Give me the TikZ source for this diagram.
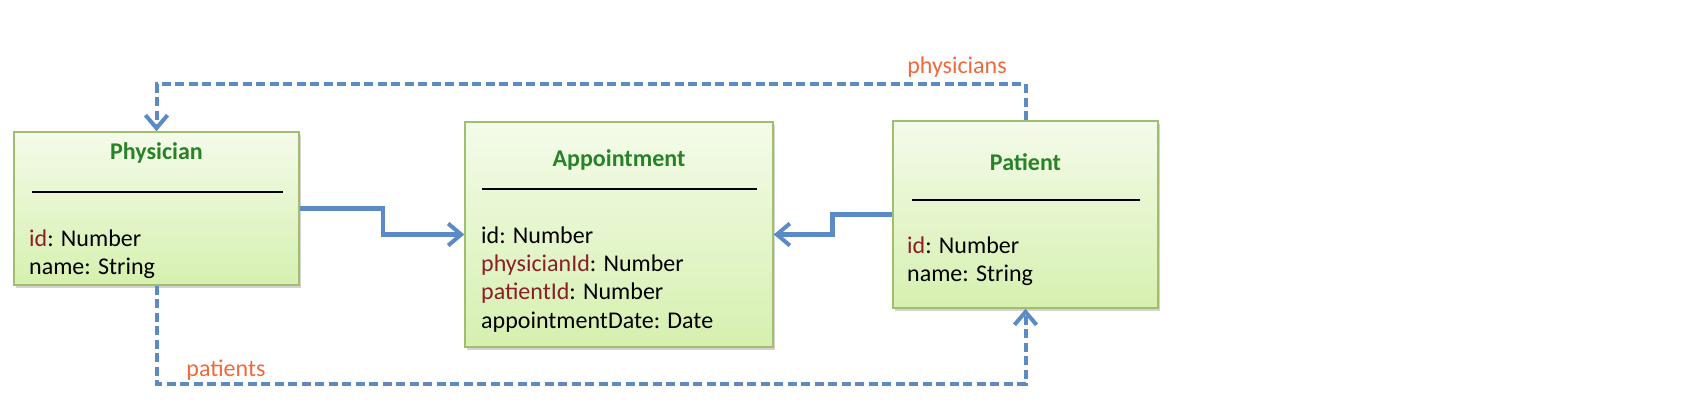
\documentclass[tikz,border=0pt]{standalone}
\usepackage{fontspec}
\setmainfont{Carlito}
\usetikzlibrary{arrows.meta,shadows}
\definecolor{linkblue}{RGB}{91,139,199}
\definecolor{titlegreen}{RGB}{40,130,40}
\definecolor{keyred}{RGB}{140,30,40}
\definecolor{rolered}{RGB}{240,105,60}
\definecolor{boxline}{RGB}{160,190,110}
\definecolor{boxtop}{RGB}{244,251,234}
\definecolor{boxbot}{RGB}{214,240,175}
\tikzset{
  entity/.style={draw=boxline, line width=1.5pt, top color=boxtop, bottom color=boxbot,
    drop shadow={shadow xshift=2pt, shadow yshift=-3pt, opacity=0.35}},
  title/.style={font=\fontsize{24}{28}\selectfont\bfseries, text=titlegreen, inner sep=0pt},
  field/.style={anchor=west, inner sep=0pt, text height=17pt, text depth=5pt,
    font=\fontsize{24}{28}\selectfont},
  role/.style={font=\fontsize{24}{28}\selectfont, text=rolered, inner sep=0pt},
  link/.style={draw=linkblue, line width=4.5pt, -{Straight Barb[length=13pt,width=22pt,line width=4pt]}},
  ref/.style={link, line width=4pt, dash pattern=on 9pt off 4.5pt}
}
\begin{document}
\begin{tikzpicture}[x=1pt,y=1pt]
\useasboundingbox (0,0) rectangle (1686,402);
% physician
\node[entity, minimum width=285, minimum height=153] (phys) at (156.5,193.5) {};
\node[title] (physT) at (156.5,249) {Physician};
\path[draw,line width=1.8pt] (32,210) -- (283,210);
\node[field] (phys1) at (29,162) {\textcolor{keyred}{id}: Number};
\node[field] (phys2) at (29,134) {name: String};
% appointment
\node[entity, minimum width=308, minimum height=225] (appt) at (619,167.5) {};
\node[title] (apptT) at (619,242) {Appointment};
\path[draw,line width=1.8pt] (482,213) -- (757,213);
\node[field] (appt1) at (481,165) {id: Number};
\node[field] (appt2) at (481,137) {\textcolor{keyred}{physicianId}: Number};
\node[field] (appt3) at (481,109) {\textcolor{keyred}{patientId}: Number};
\node[field] (appt4) at (481,80) {appointmentDate: Date};
% patient
\node[entity, minimum width=265, minimum height=187] (pat) at (1025.5,187.5) {};
\node[title] (patT) at (1025.5,240) {Patient};
\path[draw,line width=1.8pt] (912,202) -- (1140,202);
\node[field] (pat1) at (907,155) {\textcolor{keyred}{id}: Number};
\node[field] (pat2) at (907,127) {name: String};
% links
\path[link] (phys.east) -- ++(83,0) |- (appt.west);
\path[link] (pat.west) -- ++(-60,0) |- (appt.east);
\path[ref] (pat.north) -- ++(0,36) -| (phys.north);
\path[ref] (phys.south) -- ++(0,-98) -| (pat.south);
\node[role] (physR) at (957,335) {physicians};
\node[role] (patR) at (226,32) {patients};
\end{tikzpicture}
\end{document}
